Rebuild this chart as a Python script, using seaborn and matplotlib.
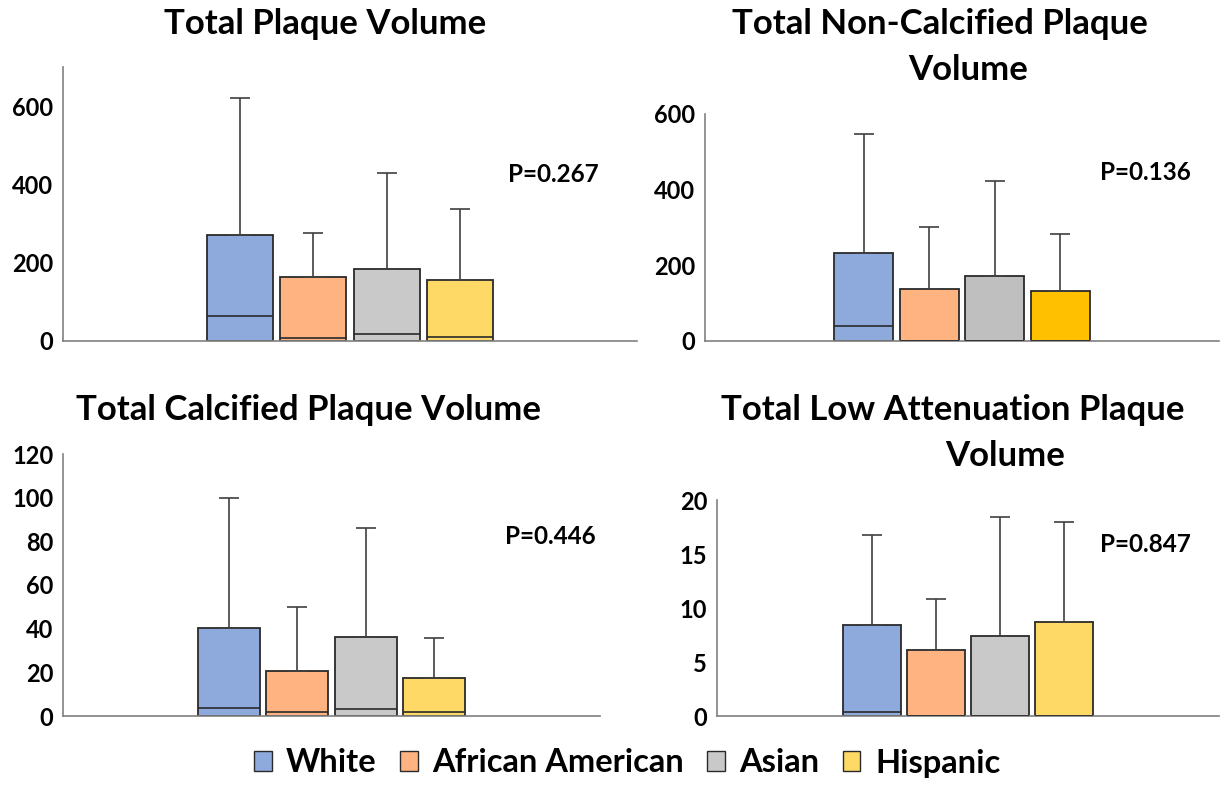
import matplotlib
matplotlib.use("Agg")
import matplotlib.pyplot as plt
from matplotlib.patches import Patch
import pandas as pd
import seaborn as sns

# groups and colours
groups = ["White", "African American", "Asian", "Hispanic"]
colors_main = ["#8EA9DB", "#FFB381", "#C9C9C9", "#FFD966"]
colors_ncp = ["#8EA9DB", "#FFB381", "#BFBFBF", "#FFC000"]

# Total plaque volume
tpv_q3 = [270, 163, 185, 157]
tpv_median = [63, 7, 17, 9]
tpv_max = [620, 276, 429, 336]

# Total non-calcified plaque volume
ncp_q3 = [232, 137, 171, 133]
ncp_median = [40, 0, 0, 0]
ncp_max = [548, 302, 422, 284]

# Total calcified plaque volume
cp_q3 = [40.2, 20.5, 36.4, 17.2]
cp_median = [3.5, 1.8, 3.2, 1.8]
cp_max = [99.7, 49.9, 86.1, 35.7]

# Total low attenuation plaque volume
lap_q3 = [8.4, 6.1, 7.4, 8.7]
lap_median = [0.4, 0.0, 0.0, 0.0]
lap_max = [16.8, 10.8, 18.4, 18.0]

p_values = ["P=0.267", "P=0.136", "P=0.446", "P=0.847"]

W, H = 1221, 786
EDGE = "#2a2a2a"
FONT = ["Lato", "DejaVu Sans"]

plt.rcParams["font.family"] = FONT
plt.rcParams["font.weight"] = "bold"


def px_axes(left, right, top, bottom):
    return [left / W, 1 - bottom / H, (right - left) / W, (bottom - top) / H]


def draw_panel(ax, q3, median, vmax, colors, ylim, step):
    df = pd.DataFrame({"panel": ["all"] * len(groups), "group": groups, "q3": q3})
    sns.barplot(
        data=df, x="panel", y="q3", hue="group", hue_order=groups,
        palette=colors, saturation=1, width=0.51, gap=0.1, errorbar=None,
        edgecolor=EDGE, linewidth=1.3, legend=False, ax=ax,
    )
    bars = sorted(ax.patches, key=lambda p: p.get_x())
    for bar, q, med, top in zip(bars, q3, median, vmax):
        cx = bar.get_x() + bar.get_width() / 2
        ax.errorbar([cx], [q], yerr=[[0], [top - q]], fmt="none",
                    ecolor="#404040", elinewidth=1.2, capsize=7, capthick=1.2,
                    zorder=1)
        ax.hlines(med, bar.get_x(), bar.get_x() + bar.get_width(),
                  color=EDGE, linewidth=1.2, zorder=3)
    ax.set_xlim(-0.5, 0.5)
    ax.set_ylim(0, ylim)
    ticks = list(range(0, int(ylim) + 1, step))
    ax.set_yticks(ticks)
    ax.set_yticklabels([str(t) for t in ticks], fontsize=17, fontweight="bold")
    ax.set_xticks([])
    ax.set_xlabel("")
    ax.set_ylabel("")
    ax.tick_params(axis="y", length=0, pad=7)
    for side in ["top", "right"]:
        ax.spines[side].set_visible(False)
    for side in ["left", "bottom"]:
        ax.spines[side].set_color("#808080")
        ax.spines[side].set_linewidth(1.2)


fig = plt.figure(figsize=(W / 100, H / 100), dpi=100)

ax1 = fig.add_axes(px_axes(63, 637, 67, 341))
draw_panel(ax1, tpv_q3, tpv_median, tpv_max, colors_main, 700, 200)
ax1.set_yticks([0, 200, 400, 600])

ax2 = fig.add_axes(px_axes(705, 1219, 114, 341))
draw_panel(ax2, ncp_q3, ncp_median, ncp_max, colors_ncp, 600, 200)

ax3 = fig.add_axes(px_axes(63, 600, 454, 716))
draw_panel(ax3, cp_q3, cp_median, cp_max, colors_main, 120, 20)

ax4 = fig.add_axes(px_axes(717, 1219, 500, 716))
draw_panel(ax4, lap_q3, lap_median, lap_max, colors_main, 20, 5)


def fig_text(x, y, s, size, ha="center"):
    fig.text(x / W, 1 - y / H, s, ha=ha, va="center", fontsize=size,
             fontweight="bold", family=FONT, color="black")


# titles
fig_text(325, 24, "Total Plaque Volume", 25)
fig_text(940, 24, "Total Non-Calcified Plaque", 25)
fig_text(968, 70, "Volume", 25)
fig_text(308, 410, "Total Calcified Plaque Volume", 25)
fig_text(953, 410, "Total Low Attenuation Plaque", 25)
fig_text(1005, 456, "Volume", 25)

# p-values
fig_text(508, 175, p_values[0], 17.5, ha="left")
fig_text(1100, 173, p_values[1], 17.5, ha="left")
fig_text(505, 537, p_values[2], 17.5, ha="left")
fig_text(1100, 545, p_values[3], 17.5, ha="left")

handles = [Patch(facecolor=c, edgecolor=EDGE, linewidth=1.0) for c in colors_main]
fig.legend(
    handles, groups, loc="center", bbox_to_anchor=(627 / W, 1 - 763 / H),
    ncol=4, frameon=False, prop={"family": FONT, "weight": "bold", "size": 23.5},
    handlelength=0.55, handleheight=0.55, handletextpad=0.45, columnspacing=0.7,
)

fig.savefig("out.png", dpi=100)
